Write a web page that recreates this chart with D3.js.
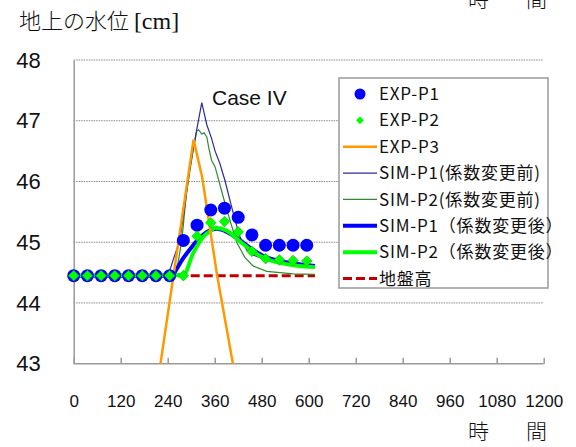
<!DOCTYPE html>
<html><head><meta charset="utf-8">
<script src="https://cdn.jsdelivr.net/npm/d3@7"></script>
<style>body{margin:0;background:#fff}svg{display:block}</style>
</head><body><svg id="c" width="576" height="447"></svg>
<script>
// ---- data ----
const xTicks = [0,120,240,360,480,600,720,840,960,1080,1200];
const yTicks = [43,44,45,46,47,48];
const expTime = [0,35,70,105,140,175,210,245,280,315,350,385,420,455,490,525,560,595];
const expP1 = [44.45,44.45,44.45,44.45,44.45,44.45,44.45,44.45,45.03,45.28,45.53,45.56,45.41,45.12,44.95,44.95,44.95,44.95];
const expP2 = [44.45,44.45,44.45,44.45,44.45,44.45,44.45,44.45,44.45,45.10,45.32,45.34,45.17,44.85,44.73,44.71,44.70,44.69];
const expP3Time = [217,306,328,366,412];
const expP3 = [42.8,46.69,46.07,44.46,42.8];
const simP1bTime = [0,241,256,271,284,296,314,327,340,352,361,373,386,399,412,425,442,458,493,527,561,616];
const simP1b = [44.45,44.45,44.75,45.03,45.61,46.19,46.85,47.30,46.93,46.71,46.50,46.30,46.02,45.69,45.36,45.08,44.87,44.79,44.71,44.66,44.63,44.60];
const simP2bTime = [0,261,276,288,305,314,319,327,333,340,345,352,361,382,399,416,437,458,493,561,616];
const simP2b = [44.45,44.45,45.03,45.81,46.52,46.83,46.85,46.78,46.80,46.73,46.55,46.35,46.24,45.74,45.36,45.00,44.75,44.61,44.52,44.48,44.47];
const simP1aTime = [0,246,280,314,340,365,391,425,459,493,527,561,616];
const simP1a = [44.45,44.45,44.74,45.02,45.17,45.22,45.17,45.03,44.87,44.75,44.69,44.65,44.61];
const simP2aTime = [0,280,305,331,352,361,391,425,459,493,527,561,616];
const simP2a = [44.45,44.46,44.82,45.09,45.20,45.24,45.19,45.01,44.84,44.72,44.66,44.62,44.59];
const groundTime = [0,616];
const ground = [44.45,44.45];
const legendNames = ["EXP-P1","EXP-P2","EXP-P3","SIM-P1(係数変更前)","SIM-P2(係数変更前)","SIM-P1（係数変更後）","SIM-P2（係数変更後）","地盤高"];

// ---- layout ----
const svg = d3.select("#c");
const L = 73.7, R = 543.7, T = 60, B = 363.7;
const x = d3.scaleLinear().domain([0,1200]).range([L,R]);
const y = d3.scaleLinear().domain([43,48]).range([B,T]);
const sans = "'Liberation Sans', Arial, sans-serif";
const jp = "'Noto Sans CJK JP', sans-serif";

svg.append("defs").append("clipPath").attr("id","clip")
  .append("rect").attr("x",L).attr("y",T-10).attr("width",R-L).attr("height",B-T+10);

// gridlines
svg.append("g").selectAll("line").data(yTicks.filter(v=>v>43)).join("line")
  .attr("x1",L).attr("x2",R).attr("y1",d=>y(d)).attr("y2",d=>y(d))
  .attr("stroke","#888").attr("stroke-width",1).attr("stroke-dasharray","1.5,1");

// y axis line + labels
const yAx = svg.append("g").attr("transform",`translate(${L},0)`)
  .call(d3.axisLeft(y).tickValues(yTicks).tickSize(0).tickPadding(33).tickFormat(d3.format("d")));
yAx.select(".domain").attr("stroke","#999").attr("stroke-width",1.5);
yAx.selectAll("text").attr("font-family",sans).attr("font-size",22).attr("fill","#111");

// x axis: ticks pointing up
const xAx = svg.append("g").attr("transform",`translate(0,${B})`)
  .call(d3.axisBottom(x).tickValues(xTicks).tickSize(-6).tickFormat(""));
xAx.select(".domain").attr("stroke","#999").attr("stroke-width",1.5).attr("d",`M${L},0H${R}`);
xAx.selectAll(".tick line").attr("stroke","#999").attr("stroke-width",1.5);
const xLab = svg.append("g").attr("transform",`translate(0,${B})`)
  .call(d3.axisBottom(x).tickValues(xTicks).tickSize(0).tickPadding(31).tickFormat(d3.format("d")));
xLab.select(".domain").remove();
xLab.selectAll("text").attr("font-family",sans).attr("font-size",17).attr("fill","#111");

// lines
const plot = svg.append("g").attr("clip-path","url(#clip)");
function series(times, vals, curve){
  return d3.line().x((d,i)=>x(times[i])).y(d=>y(d)).curve(curve||d3.curveLinear)(vals);
}
plot.append("path").attr("d",series(groundTime,ground)).attr("fill","none")
  .attr("stroke","#C00000").attr("stroke-width",3).attr("stroke-dasharray","9,4");
plot.append("path").attr("d",series(simP2bTime,simP2b)).attr("fill","none")
  .attr("stroke","#2E8B2E").attr("stroke-width",1.2);
plot.append("path").attr("d",series(simP1bTime,simP1b)).attr("fill","none")
  .attr("stroke","#2B2B9A").attr("stroke-width",1.2);
plot.append("path").attr("d",series(simP1aTime,simP1a,d3.curveMonotoneX)).attr("fill","none")
  .attr("stroke","#0000FF").attr("stroke-width",4);
plot.append("path").attr("d",series(simP2aTime,simP2a,d3.curveMonotoneX)).attr("fill","none")
  .attr("stroke","#00FF00").attr("stroke-width",4);
plot.append("path").attr("d",series(expP3Time,expP3)).attr("fill","none")
  .attr("stroke","#FF9900").attr("stroke-width",2.5);

// markers
svg.append("g").selectAll("circle").data(expP1).join("circle")
  .attr("cx",(d,i)=>x(expTime[i])).attr("cy",d=>y(d)).attr("r",6.5).attr("fill","#0000FF");
const dia = d3.symbol().type(d3.symbolDiamond2).size(72);
svg.append("g").selectAll("path").data(expP2).join("path")
  .attr("transform",(d,i)=>`translate(${x(expTime[i])},${y(d)})`)
  .attr("d",dia).attr("fill","#00FF00").attr("stroke","#00C000").attr("stroke-width",0.6);

// case label
svg.append("text").attr("x",212).attr("y",105).attr("font-family",sans).attr("font-size",21)
  .attr("fill","#111").text("Case IV");

// legend
const lg = svg.append("g");
lg.append("rect").attr("x",339).attr("y",78).attr("width",209).attr("height",210)
  .attr("fill","#fff").attr("stroke","#999").attr("stroke-width",1.5);
const lgY = d3.scalePoint().domain(legendNames).range([94,278.5]);
const lgStyle = [
  {t:"c",c:"#0000FF"},{t:"d",c:"#00FF00"},{t:"l",c:"#FF9900",w:2.5},
  {t:"l",c:"#2B2B9A",w:1.2},{t:"l",c:"#2E8B2E",w:1.2},
  {t:"l",c:"#0000FF",w:4},{t:"l",c:"#00FF00",w:4},{t:"l",c:"#C00000",w:3,dash:"9,4"}];
legendNames.forEach((n,i)=>{
  const yy = lgY(n), s = lgStyle[i];
  if(s.t==="c") lg.append("circle").attr("cx",360).attr("cy",yy).attr("r",5.5).attr("fill",s.c);
  else if(s.t==="d") lg.append("path").attr("transform",`translate(360,${yy})`)
    .attr("d",d3.symbol().type(d3.symbolDiamond2).size(40)).attr("fill",s.c);
  else lg.append("line").attr("x1",343).attr("x2",377).attr("y1",yy).attr("y2",yy)
    .attr("stroke",s.c).attr("stroke-width",s.w).attr("stroke-dasharray",s.dash||null);
  lg.append("text").attr("x",379).attr("y",yy).attr("dy","0.36em")
    .attr("font-family",jp).attr("font-size",17).attr("letter-spacing",0.8)
    .attr("fill","#111").text(n);
});

// titles
const tt = svg.append("text").attr("x",19).attr("y",29).attr("font-size",22).attr("fill","#111")
  .attr("font-family","'Noto Sans CJK JP',serif").attr("font-weight",300);
tt.append("tspan").text("地上の水位 ");
tt.append("tspan").attr("font-family","'Liberation Serif',serif").attr("font-size",24).attr("font-weight",400).text("[cm]");
[7,439].forEach(yy=>{
  svg.append("text").attr("x",468).attr("y",yy).attr("font-size",21).attr("fill","#111")
    .attr("font-family",jp).attr("font-weight",300).text("時");
  svg.append("text").attr("x",526).attr("y",yy).attr("font-size",21).attr("fill","#111")
    .attr("font-family",jp).attr("font-weight",300).text("間");
});
</script></body></html>
